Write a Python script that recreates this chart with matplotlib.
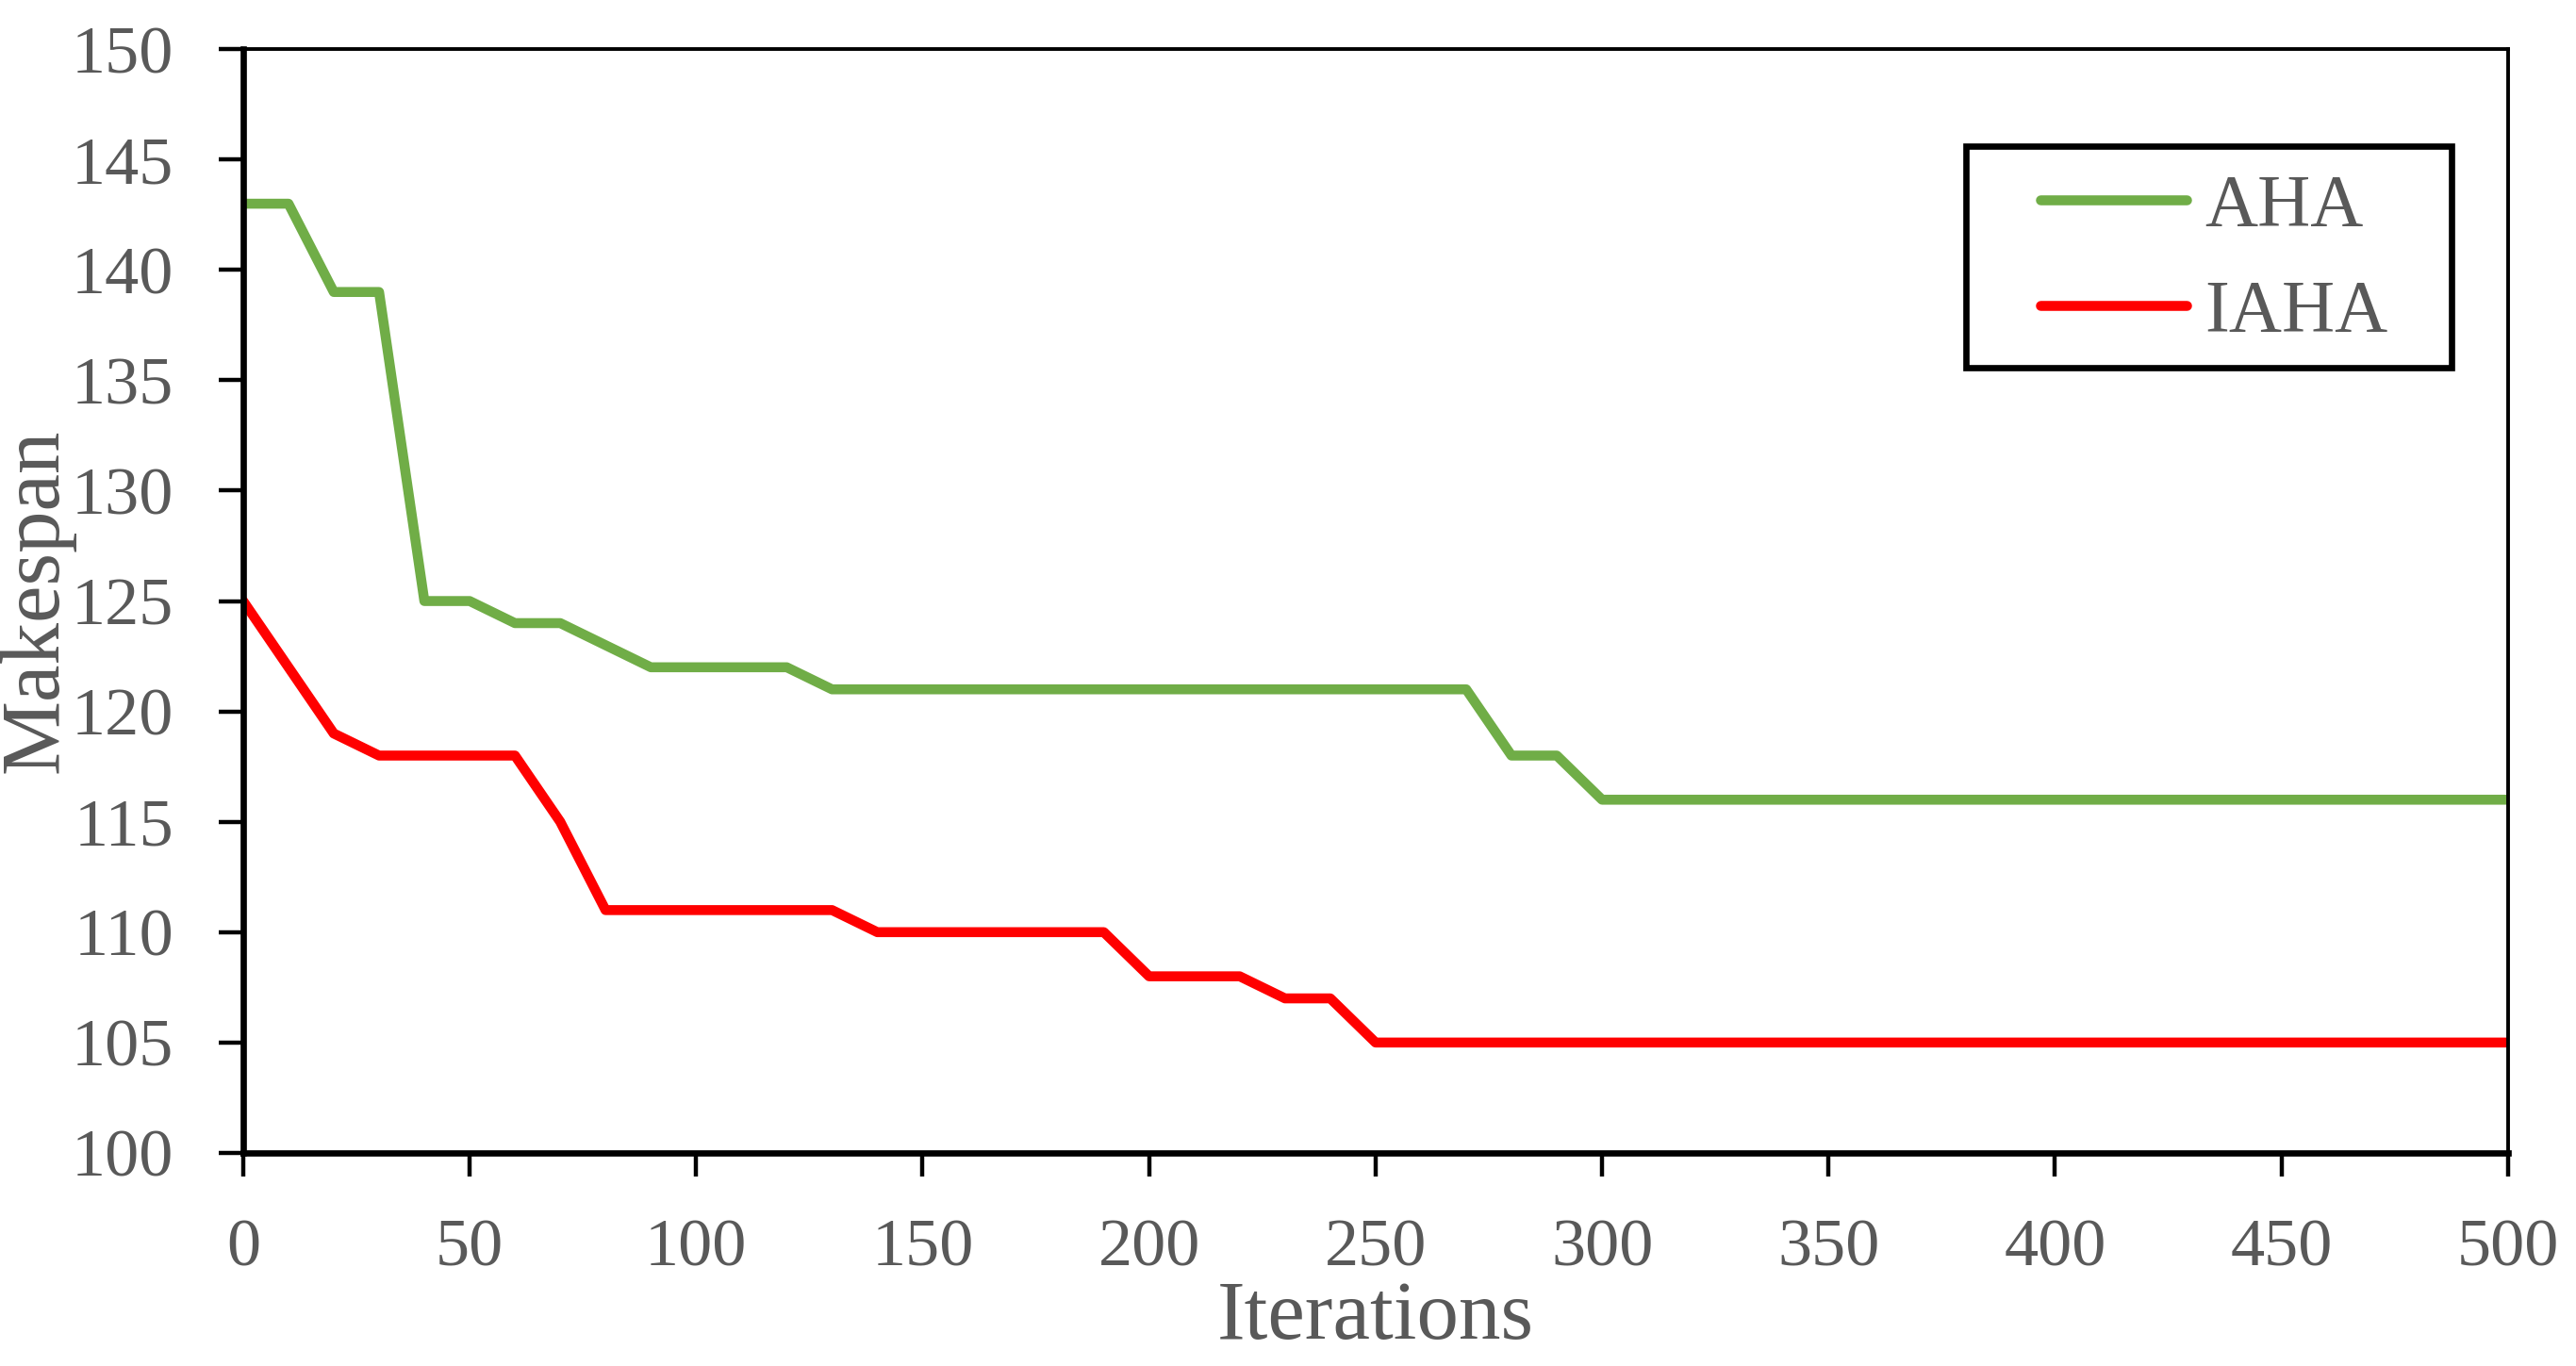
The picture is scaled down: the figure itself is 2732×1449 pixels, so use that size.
import matplotlib
matplotlib.use("Agg")
import matplotlib.pyplot as plt
from matplotlib.patches import Rectangle
import numpy as np

iterations = np.arange(0, 501, 10)

aha = [143, 143, 139, 139, 125, 125, 124, 124, 123, 122,
       122, 122, 122, 121, 121, 121, 121, 121, 121, 121,
       121, 121, 121, 121, 121, 121, 121, 121, 118, 118,
       116] + [116] * 20

iaha = [125, 122, 119, 118, 118, 118, 118, 115, 111, 111,
        111, 111, 111, 111, 110, 110, 110, 110, 110, 110,
        108, 108, 108, 107, 107, 105] + [105] * 25

plt.rcParams['font.family'] = ['Liberation Serif', 'DejaVu Serif']
gray = "#595959"

fig = plt.figure(figsize=(13.66, 7.245), dpi=200)
ax = fig.add_axes([0.0944, 0.156, 0.8792, 0.808])

ax.plot(iterations, aha, color="#70AD47", lw=3.8, label="AHA", solid_capstyle="round")
ax.plot(iterations, iaha, color="#FF0000", lw=3.8, label="IAHA", solid_capstyle="round")

ax.set_xlim(0, 500)
ax.set_ylim(100, 150)
ax.set_xticks(np.arange(0, 501, 50))
ax.set_yticks(np.arange(100, 151, 5))

for s in ax.spines.values():
    s.set_color("black")
    s.set_linewidth(1.4)
ax.spines['left'].set_linewidth(2.4)
ax.spines['bottom'].set_linewidth(2.4)

ax.tick_params(axis='y', length=9.5, width=1.6, color="black", labelsize=26, labelcolor=gray, pad=17)
ax.tick_params(axis='x', length=9, width=1.6, color="black", labelsize=26, labelcolor=gray, pad=16)

ax.set_xlabel("Iterations", fontsize=32, color=gray, va="center")
ax.set_ylabel("Makespan", fontsize=32, color=gray, va="center")
ax.xaxis.set_label_coords(0.5, -0.150)
ax.yaxis.set_label_coords(-0.091, 0.5)

# legend box drawn separately so the padding can match
box = Rectangle((0.7632, 0.7308), 0.1885, 0.1622, transform=fig.transFigure,
                facecolor="white", edgecolor="black", lw=2.4, zorder=4, clip_on=False)
ax.add_patch(box)
leg = ax.legend(loc="center left", bbox_to_anchor=(0.792, 0.8095), bbox_transform=fig.transFigure,
                fontsize=28, frameon=False, borderpad=0, labelspacing=0.52,
                handlelength=2.0, handletextpad=0.25, borderaxespad=0)
leg.set_zorder(6)
for t in leg.get_texts():
    t.set_color(gray)

fig.savefig("out.png", dpi=200)
